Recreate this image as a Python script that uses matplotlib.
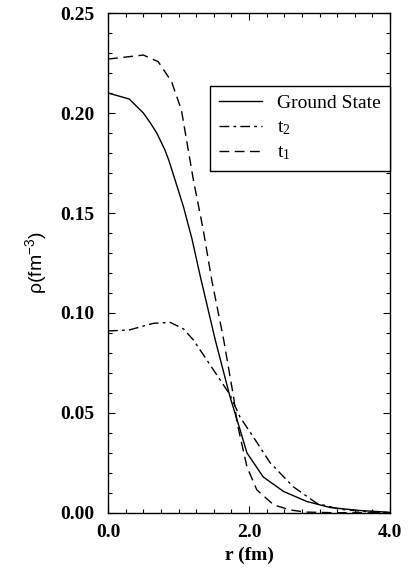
import matplotlib
matplotlib.use("Agg")
import matplotlib.pyplot as plt
from matplotlib.ticker import MultipleLocator, FixedLocator

plt.rcParams['mathtext.default'] = 'regular'

# Data
r_gs = [0.0, 0.3, 0.5, 0.6, 0.69, 0.8, 0.86, 0.95, 1.07, 1.19, 1.30, 1.52, 1.73, 1.83, 1.97, 2.20, 2.49, 2.82, 3.15, 3.57, 4.0]
rho_gs = [0.210, 0.207, 0.200, 0.195, 0.190, 0.182, 0.1765, 0.1665, 0.153, 0.137, 0.1195, 0.0865, 0.058, 0.0465, 0.030, 0.018, 0.0107, 0.0057, 0.0027, 0.0012, 0.0003]

r_t2 = [0.0, 0.3, 0.64, 0.88, 1.07, 1.21, 1.40, 1.59, 1.73, 1.87, 2.06, 2.30, 2.63, 2.96, 3.29, 3.7, 4.0]
rho_t2 = [0.091, 0.0915, 0.0948, 0.0953, 0.092, 0.0865, 0.0765, 0.0665, 0.059, 0.048, 0.038, 0.025, 0.013, 0.0048, 0.0018, 0.0005, 0.0002]

r_t1 = [0.0, 0.25, 0.5, 0.71, 0.9, 1.04, 1.21, 1.35, 1.47, 1.64, 1.78, 1.83, 1.97, 2.11, 2.35, 2.58, 2.8, 3.2, 4.0]
rho_t1 = [0.227, 0.228, 0.229, 0.2257, 0.2157, 0.2015, 0.1665, 0.1415, 0.1165, 0.0865, 0.058, 0.045, 0.023, 0.0115, 0.004, 0.0015, 0.0004, 0.0001, 0.0]

labels = ['Ground State', 't$_2$', 't$_1$']
x_ticks = [0.0, 2.0, 4.0]
x_ticklabels = ['0.0', '2.0', '4.0']
y_ticks = [0.00, 0.05, 0.10, 0.15, 0.20, 0.25]
y_ticklabels = ['0.00', '0.05', '0.10', '0.15', '0.20', '0.25']

fig = plt.figure(figsize=(4.08, 5.68), dpi=100)
ax = fig.add_axes([0.265, 0.097, 0.691, 0.880])

serif = 'Liberation Serif'
ax.plot(r_gs, rho_gs, color='black', lw=1.0, ls='-', label=labels[0])
ax.plot(r_t2, rho_t2, color='black', lw=1.0, ls=(0, (7, 3, 2, 3)), label=labels[1])
ax.plot(r_t1, rho_t1, color='black', lw=1.0, ls=(0, (7, 4)), label=labels[2])

ax.set_xlim(0, 4.0)
ax.set_ylim(0, 0.25)
ax.xaxis.set_major_locator(FixedLocator(x_ticks))
ax.yaxis.set_major_locator(FixedLocator(y_ticks))
ax.set_xticklabels(x_ticklabels, fontfamily=serif, fontweight='bold', fontsize=14)
ax.set_yticklabels(y_ticklabels, fontfamily=serif, fontweight='bold', fontsize=14)
ax.xaxis.set_minor_locator(MultipleLocator(0.25))
ax.yaxis.set_minor_locator(MultipleLocator(0.01))
ax.tick_params(which='both', direction='in', top=True, right=True, width=0.8)
ax.tick_params(which='major', length=5)
ax.tick_params(axis='y', which='major', pad=10)
ax.tick_params(axis='x', which='major', pad=8)
ax.tick_params(which='minor', length=3)
for s in ax.spines.values():
    s.set_linewidth(1.0)

ax.set_xlabel('r (fm)', fontfamily=serif, fontweight='bold', fontsize=14, labelpad=4)
ax.set_ylabel('ρ(fm$^{-3}$)', fontfamily='Liberation Sans', fontsize=14, labelpad=8)

leg = ax.legend(loc='upper left', bbox_to_anchor=(0.362, 0.855), frameon=True, fancybox=False,
                edgecolor='black', framealpha=1, borderaxespad=0, handlelength=2.2,
                handletextpad=0.8, labelspacing=0.35, borderpad=0.45,
                prop={'family': serif, 'size': 14})
leg.get_frame().set_linewidth(1.0)
leg.set_clip_on(False)

fig.savefig('out.png', dpi=100)
